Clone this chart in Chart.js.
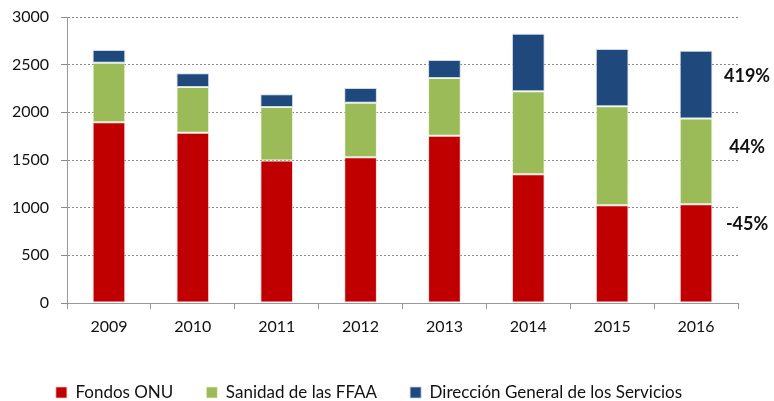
<!DOCTYPE html>
<html lang="es">
<head>
    <meta charset="UTF-8">
    <title>Gasto por origen de fondos</title>
    <script src="https://cdn.jsdelivr.net/npm/chart.js"></script>
    <style>
        html, body { margin: 0; padding: 0; background: #fff; overflow: hidden; }
        .chart-container { position: relative; width: 774px; height: 401px; }
    </style>
</head>
<body>
    <div class="chart-container">
        <canvas id="fundsChart"></canvas>
    </div>
    <script>
        const years = ['2009', '2010', '2011', '2012', '2013', '2014', '2015', '2016'];
        const fondosOnu = [1895, 1785, 1495, 1530, 1755, 1350, 1025, 1035];
        const sanidadFfaa = [625, 480, 560, 570, 605, 870, 1040, 900];
        const direccionGeneral = [135, 145, 135, 155, 190, 605, 600, 710];
        const yTicks = [0, 500, 1000, 1500, 2000, 2500, 3000];
        // change 2009-2016 written beside the last bar, with the value it sits at
        const changeLabels = ['-45%', '44%', '419%'];
        const changeLabelValues = [830, 1630, 2380];

        const fontFamily = 'Lato, "Open Sans", sans-serif';

        const changeLabelPlugin = {
            id: 'changeLabels',
            afterDatasetsDraw(chart) {
                const ctx = chart.ctx;
                const x = chart.scales.x;
                const y = chart.scales.y;
                const lastX = x.getPixelForValue(years.length - 1);
                ctx.save();
                ctx.font = 'bold 18px ' + fontFamily;
                ctx.fillStyle = '#111';
                ctx.textAlign = 'center';
                ctx.textBaseline = 'middle';
                changeLabels.forEach((txt, i) => {
                    ctx.fillText(txt, lastX + 51, y.getPixelForValue(changeLabelValues[i]));
                });
                ctx.restore();
            }
        };

        const ctx = document.getElementById('fundsChart').getContext('2d');
        new Chart(ctx, {
            type: 'bar',
            data: {
                labels: years,
                datasets: [
                    { label: 'Fondos ONU', data: fondosOnu, backgroundColor: '#C00000', borderColor: 'rgba(255,200,200,0.7)' },
                    { label: 'Sanidad de las FFAA', data: sanidadFfaa, backgroundColor: '#9BBB59', borderColor: 'rgba(230,245,210,0.7)' },
                    { label: 'Dirección General de los Servicios', data: direccionGeneral, backgroundColor: '#1F497D', borderColor: 'rgba(190,205,230,0.8)' }
                ]
            },
            options: {
                responsive: true,
                maintainAspectRatio: false,
                animation: false,
                datasets: {
                    bar: { barPercentage: 0.39, categoryPercentage: 1, borderWidth: 1, borderSkipped: false }
                },
                layout: { padding: { top: 17, right: 36, left: 0, bottom: -10 } },
                plugins: {
                    tooltip: { enabled: false },
                    legend: {
                        position: 'bottom',
                        labels: {
                            boxWidth: 11,
                            boxHeight: 11,
                            padding: 33,
                            color: '#111',
                            font: { family: fontFamily, size: 17 }
                        }
                    }
                },
                scales: {
                    x: {
                        stacked: true,
                        grid: { offset: true, drawOnChartArea: false, drawTicks: true, tickLength: 6, color: '#999' },
                        border: { display: true, color: '#999', width: 1 },
                        ticks: { color: '#111', padding: 8, font: { family: fontFamily, size: 16 } },
                        afterFit(scale) { scale.height = 48; }
                    },
                    y: {
                        stacked: true,
                        min: 0,
                        max: 3000,
                        afterBuildTicks(scale) { scale.ticks = yTicks.map(v => ({ value: v })); },
                        grid: { color: '#8a8a8a', tickLength: 6, lineWidth: 1 },
                        border: { display: true, color: '#999', width: 1, dash: [2, 2] },
                        ticks: {
                            color: '#111',
                            padding: 12,
                            font: { family: fontFamily, size: 16 },
                            callback: v => String(v)
                        },
                        afterFit(scale) {
                            scale.width = 67;
                            scale.paddingTop = 0;
                            scale.paddingBottom = 0;
                        }
                    }
                }
            },
            plugins: [changeLabelPlugin]
        });
    </script>
</body>
</html>
